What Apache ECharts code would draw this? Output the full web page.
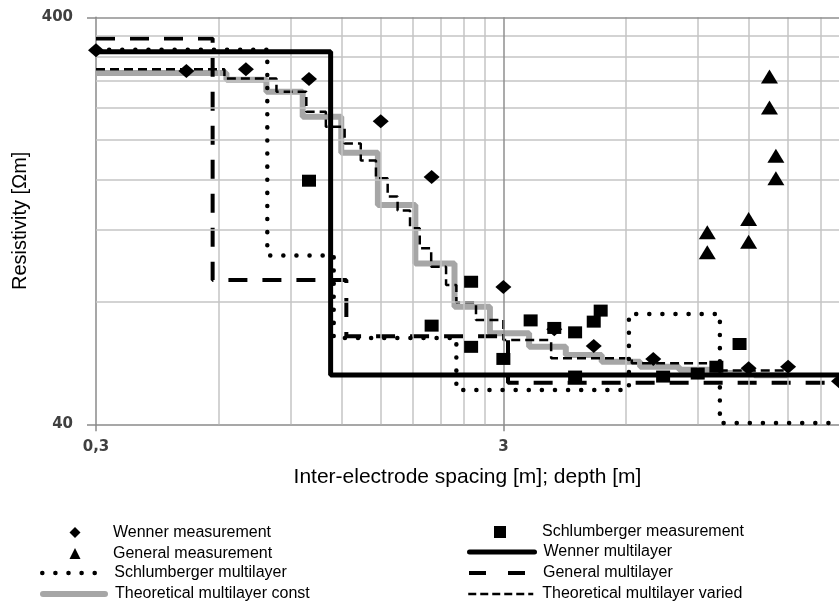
<!DOCTYPE html>
<html>
<head>
<meta charset="utf-8">
<script src="https://cdn.jsdelivr.net/npm/echarts@6/dist/echarts.min.js"></script>
<style>
  html, body { margin: 0; padding: 0; background: #fff; }
  #chart { width: 839px; height: 604px; }
</style>
</head>
<body>
<div id="chart"></div>
<script>
// ---- Measured soundings: electrode spacing [m] and apparent resistivity [Ωm] ----
const wennerSpacing  = [0.3, 0.5, 0.7, 1, 1.5, 2, 3, 4, 5, 7, 12, 15, 20];
const wennerRho      = [332, 295, 298, 282, 222, 162, 87, 68.5, 62.3, 57.9, 54.9, 55.4, 51];

const schlSpacing    = [1, 2, 2.5, 2.5, 3, 3.5, 4, 4.5, 4.5, 5, 5.2, 7.4, 9, 10, 11.4];
const schlRho        = [158.7, 69.9, 89.6, 62, 57.9, 72, 69, 67.3, 52.4, 71.5, 76.1, 52.4, 53.3, 55.4, 63];

const generalSpacing = [9.5, 9.5, 12, 12, 13.5, 13.5, 14, 14];
const generalRho     = [118.6, 105.9, 127.8, 112.4, 286, 240, 182.8, 161];

// ---- Layered models: top depth of each layer [m] (last entry closes the profile) and layer resistivity [Ωm] ----
const wennerLayerTop = [0.3, 1.13, 20];
const wennerLayerRho = [329, 52.9];

const schlLayerTop   = [0.3, 0.79, 1.15, 2.3, 6.1, 10.2, 20];
const schlLayerRho   = [333, 104, 65.2, 48.6, 74.7, 40.3];

const generalLayerTop = [0.3, 0.58, 1.235, 3.08, 20];
const generalLayerRho = [355, 90.5, 65.8, 50.6];

const constLayerTop  = [0.3, 0.627, 0.786, 0.965, 1.2, 1.476, 1.824, 2.276, 2.78, 3.47, 4.27, 5.23, 6.5, 8.1, 10, 12.4, 15];
const constLayerRho  = [292, 281, 262.6, 228, 186, 138.3, 99.4, 77.8, 67, 62, 59.2, 57, 55.4, 54.5, 53.5, 52.8];

const variedLayerTop = [0.3, 0.62, 0.832, 0.985, 1.1, 1.223, 1.34, 1.46, 1.56, 1.65, 1.77, 1.87, 1.995, 2.17, 2.3, 2.57, 3.0, 3.93, 6.2, 10, 15];
const variedLayerRho = [298, 283, 262.6, 234.5, 215.4, 196, 177.8, 160.9, 145.1, 134, 121.2, 108.3, 97.6, 88, 79.8, 72.2, 64.4, 58.1, 56.5, 54.2];

// ---- Axes ----
const xMin = 0.3, xMax = 20;
const yMin = 40, yMax = 400;
const xTickValues = [0.3, 3];
const xTickLabels = ['0,3', '3'];
const yTickValues = [40, 400];
const yTickLabels = ['40', '400'];
const xMinorGrid = [0.6, 0.9, 1.2, 1.5, 1.8, 2.1, 2.4, 2.7, 6, 9, 12, 15, 18];
const xMajorGrid = [3];
const yMinorGrid = [80, 120, 160, 200, 240, 280, 320, 360];
const yMajorGrid = [400];

const names = {
  wMeas: 'Wenner measurement',
  sMeas: 'Schlumberger measurement',
  gMeas: 'General measurement',
  wML: 'Wenner multilayer',
  sML: 'Schlumberger multilayer',
  gML: 'General multilayer',
  cML: 'Theoretical multilayer const',
  vML: 'Theoretical multilayer varied'
};

const pairs = (xs, ys) => xs.map((x, i) => [x, ys[i]]);
// step profile: each layer value held from its top to the next top
const profile = (tops, rhos) => tops.map((t, i) => [t, rhos[Math.min(i, rhos.length - 1)]]);
const labelFor = (vals, labels) => v => {
  for (let i = 0; i < vals.length; i++) {
    if (Math.abs(v - vals[i]) / vals[i] < 1e-6) return labels[i];
  }
  return '';
};

const FONT = '"Liberation Sans", Arial, sans-serif';
const TICK_FONT = '"DejaVu Sans", Verdana, sans-serif';
const AXIS_GREY = '#8a8a8a';

const gridLineSeries = {
  type: 'line',
  data: [],
  silent: true,
  z: 1,
  markLine: {
    silent: true,
    symbol: ['none', 'none'],
    label: { show: false },
    animation: false,
    lineStyle: { type: 'solid' },
    data: [
      ...xMinorGrid.map(v => ({ xAxis: v, lineStyle: { color: '#c4c4c4', width: 1.5 } })),
      ...yMinorGrid.map(v => ({ yAxis: v, lineStyle: { color: '#c4c4c4', width: 1.5 } })),
      ...xMajorGrid.map(v => ({ xAxis: v, lineStyle: { color: '#8f8f8f', width: 1.5 } })),
      ...yMajorGrid.map(v => ({ yAxis: v, lineStyle: { color: '#8f8f8f', width: 1.5 } }))
    ]
  }
};

const stepSeries = (name, tops, rhos, lineStyle, z) => ({
  name, type: 'line', step: 'end', symbol: 'none', z,
  data: profile(tops, rhos),
  lineStyle: Object.assign({ color: '#000' }, lineStyle),
  itemStyle: { color: lineStyle.color || '#000' },
  emphasis: { disabled: true }
});

const scatterSeries = (name, xs, ys, symbol, size) => ({
  name, type: 'scatter', symbol, symbolSize: size, z: 10,
  data: pairs(xs, ys),
  itemStyle: { color: '#000', opacity: 1 },
  emphasis: { disabled: true }
});

const legendText = { fontFamily: FONT, fontSize: 16, color: '#000', lineHeight: 16 };

// legend entry for a marker series: square icon box centred at cx
const markerLegend = (name, cx, rowCenter, size, textStart) => ({
  data: [name], left: cx - size / 2, top: rowCenter - size / 2, orient: 'vertical',
  padding: 0, itemWidth: size, itemHeight: size, selectedMode: false,
  textStyle: Object.assign({ padding: [0, 0, 0, textStart - (cx + size / 2 + 5)] }, legendText)
});

// legend entry for a profile line: plain line sample, no point symbol
const lineLegend = (name, left, rowCenter, width, textStart, lineStyle) => ({
  data: [name], left, top: rowCenter - 7, orient: 'vertical',
  padding: 0, itemWidth: width, itemHeight: 14, selectedMode: false,
  itemStyle: { color: 'rgba(0,0,0,0)', borderWidth: 0, opacity: 0 },
  lineStyle,
  textStyle: Object.assign({ padding: [0, 0, 0, textStart - (left + width + 5)] }, legendText)
});

const rows = [530, 551, 572, 593];

const option = {
  animation: false,
  backgroundColor: '#fff',
  grid: { left: 96, top: 17.3, width: 744, height: 407, containLabel: false },
  xAxis: {
    type: 'log', logBase: 10, min: xMin, max: xMax,
    name: 'Inter-electrode spacing [m]; depth [m]',
    nameLocation: 'middle', nameGap: 42,
    nameTextStyle: { fontFamily: FONT, fontSize: 21, color: '#000' },
    axisLine: { show: true, onZero: false, lineStyle: { color: AXIS_GREY, width: 1.5 } },
    axisTick: { show: true, customValues: xTickValues, length: 7, lineStyle: { color: AXIS_GREY, width: 1.5 } },
    minorTick: { show: false },
    axisLabel: {
      customValues: xTickValues, formatter: labelFor(xTickValues, xTickLabels),
      margin: 15, fontFamily: TICK_FONT, fontWeight: 'bold', fontSize: 15, color: '#404040'
    },
    splitLine: { show: false }, minorSplitLine: { show: false }
  },
  yAxis: {
    type: 'log', logBase: 10, min: yMin, max: yMax,
    name: 'Resistivity [Ωm]',
    nameLocation: 'middle', nameGap: 63, nameRotate: 90,
    nameTextStyle: { fontFamily: FONT, fontSize: 20, color: '#000' },
    axisLine: { show: true, onZero: false, lineStyle: { color: AXIS_GREY, width: 1.5 } },
    axisTick: { show: true, customValues: yTickValues, length: 9, lineStyle: { color: AXIS_GREY, width: 1.5 } },
    minorTick: { show: false },
    axisLabel: {
      customValues: yTickValues, formatter: labelFor(yTickValues, yTickLabels),
      margin: 23, fontFamily: TICK_FONT, fontWeight: 'bold', fontSize: 15, color: '#404040'
    },
    splitLine: { show: false }, minorSplitLine: { show: false }
  },
  legend: [
    markerLegend(names.wMeas, 75, rows[0], 11, 113),
    markerLegend(names.gMeas, 75, rows[1], 11, 113),
    lineLegend(names.sML, 40, rows[2], 62, 112, { width: 4.5, type: [0.1, 13], cap: 'round' }),
    lineLegend(names.cML, 40, rows[3], 62, 112, { width: 6, cap: 'round' }),
    markerLegend(names.sMeas, 500, rows[0], 12, 542),
    lineLegend(names.wML, 467, rows[1], 65, 541, { width: 5, cap: 'round' }),
    lineLegend(names.gML, 467, rows[2], 65, 541, { width: 4, type: [17, 22], cap: 'butt' }),
    lineLegend(names.vML, 467, rows[3], 65, 541, { width: 2.5, type: [8, 4] })
  ],
  series: [
    gridLineSeries,
    stepSeries(names.cML, constLayerTop, constLayerRho, { color: '#a6a6a6', width: 6 }, 2),
    stepSeries(names.vML, variedLayerTop, variedLayerRho, { width: 2.5, type: [9, 5] }, 3),
    stepSeries(names.gML, generalLayerTop, generalLayerRho, { width: 4, type: [19, 15] }, 4),
    stepSeries(names.sML, schlLayerTop, schlLayerRho, { width: 4.5, type: [0.1, 13], cap: 'round' }, 5),
    stepSeries(names.wML, wennerLayerTop, wennerLayerRho, { width: 5, cap: 'round' }, 6),
    scatterSeries(names.wMeas, wennerSpacing, wennerRho, 'diamond', [16, 14]),
    scatterSeries(names.sMeas, schlSpacing, schlRho, 'rect', [14, 12]),
    scatterSeries(names.gMeas, generalSpacing, generalRho, 'triangle', [17, 14])
  ]
};

const chart = echarts.init(document.getElementById('chart'), null, { renderer: 'canvas' });
chart.setOption(option);
</script>
</body>
</html>
